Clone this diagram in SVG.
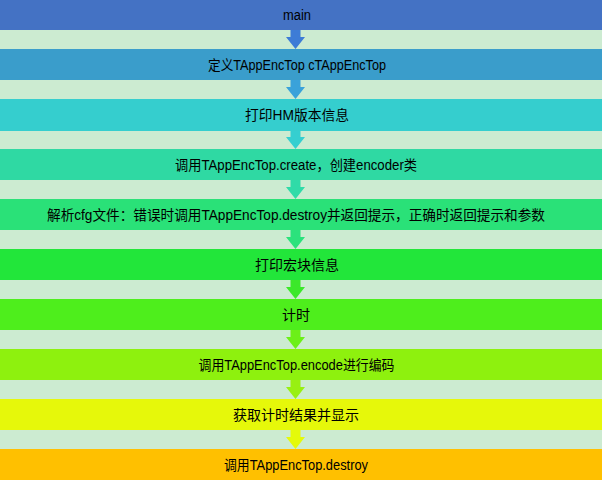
<svg xmlns="http://www.w3.org/2000/svg" width="602" height="480" viewBox="0 0 602 480">
<style>
.lbl{font-family:"Liberation Sans","Noto Sans CJK SC",sans-serif;font-size:14px;fill:#000;text-anchor:middle;}
</style>
<rect x="0" y="0" width="602" height="480" fill="#CCEBD1"/>
<g id="connectors">
<polygon points="290.5,30 300.5,30 300.5,37 305,37 295.5,49 286,37 290.5,37" fill="#3D7CD6"/>
<polygon points="290.5,80 300.5,80 300.5,87 305,87 295.5,99 286,87 290.5,87" fill="#3AA2DA"/>
<polygon points="290.5,131 300.5,131 300.5,137 305,137 295.5,149 286,137 290.5,137" fill="#35CFD0"/>
<polygon points="290.5,180 300.5,180 300.5,187 305,187 295.5,199 286,187 290.5,187" fill="#30DBA8"/>
<polygon points="290.5,230 300.5,230 300.5,237 305,237 295.5,249 286,237 290.5,237" fill="#2BE27C"/>
<polygon points="290.5,280 300.5,280 300.5,287 305,287 295.5,299 286,287 290.5,287" fill="#3CE82A"/>
<polygon points="290.5,330 300.5,330 300.5,337 305,337 295.5,349 286,337 290.5,337" fill="#6CF018"/>
<polygon points="290.5,380 300.5,380 300.5,387 305,387 295.5,399 286,387 290.5,387" fill="#98F012"/>
<polygon points="290.5,430 300.5,430 300.5,437 305,437 295.5,449 286,437 290.5,437" fill="#E4FA0A"/>
</g>
<g id="n1"><rect x="0" y="0" width="602" height="30" fill="#4472C4"/><text class="lbl" x="297" y="20" textLength="28" lengthAdjust="spacingAndGlyphs">main</text></g>
<g id="n2"><rect x="0" y="49" width="602" height="31" fill="#3A9DCB"/><text class="lbl" x="297" y="69.5" textLength="178" lengthAdjust="spacingAndGlyphs">定义TAppEncTop cTAppEncTop</text></g>
<g id="n3"><rect x="0" y="99" width="602" height="32" fill="#35CECE"/><text class="lbl" x="297" y="120" textLength="104" lengthAdjust="spacingAndGlyphs">打印HM版本信息</text></g>
<g id="n4"><rect x="0" y="149" width="602" height="31" fill="#2FD9A3"/><text class="lbl" x="296" y="169.5" textLength="242" lengthAdjust="spacingAndGlyphs">调用TAppEncTop.create，创建encoder类</text></g>
<g id="n5"><rect x="0" y="199" width="602" height="31" fill="#2AE178"/><text class="lbl" x="296" y="219.5" textLength="498" lengthAdjust="spacingAndGlyphs">解析cfg文件：错误时调用TAppEncTop.destroy并返回提示，正确时返回提示和参数</text></g>
<g id="n6"><rect x="0" y="249" width="602" height="31" fill="#22E63A"/><text class="lbl" x="297" y="269.5">打印宏块信息</text></g>
<g id="n7"><rect x="0" y="299" width="602" height="31" fill="#4EEE1C"/><text class="lbl" x="296" y="319.5">计时</text></g>
<g id="n8"><rect x="0" y="349" width="602" height="31" fill="#8EF10E"/><text class="lbl" x="296.5" y="369.5" textLength="196" lengthAdjust="spacingAndGlyphs">调用TAppEncTop.encode进行编码</text></g>
<g id="n9"><rect x="0" y="399" width="602" height="31" fill="#E6F80A"/><text class="lbl" x="296" y="419.5">获取计时结果并显示</text></g>
<g id="n10"><rect x="0" y="449" width="602" height="31" fill="#FFC000"/><text class="lbl" x="296" y="469.5" textLength="144" lengthAdjust="spacingAndGlyphs">调用TAppEncTop.destroy</text></g>
</svg>
